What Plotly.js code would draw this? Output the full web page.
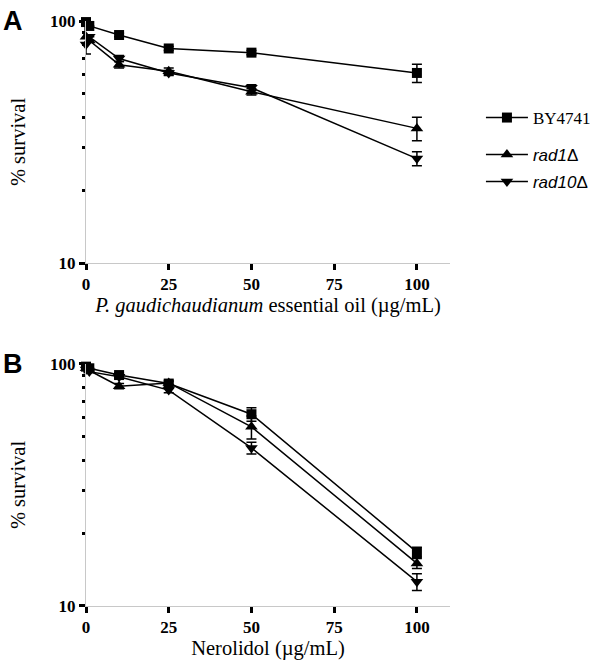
<!DOCTYPE html>
<html>
<head>
<meta charset="utf-8">
<script src="https://cdn.plot.ly/plotly-3.0.1.min.js"></script>
<style>html,body{margin:0;padding:0;background:#fff;}</style>
</head>
<body>
<div id="chart" style="width:600px;height:665px;"></div>
<script>
// Concentrations (µg/mL)
const conc = [0, 1, 10, 25, 50, 100];
const xTicks = [0, 25, 50, 75, 100];
const yTicks = [10, 100];
const yMinor = [20, 30, 40, 50, 60, 70, 80, 90];

const seriesNames = ['BY4741', '<i>rad1</i>Δ', '<i>rad10</i>Δ'];

// Panel A: P. gaudichaudianum essential oil
const aBY4741 = [99, 95.4, 87.5, 77, 74, 61];
const aBY4741Err = [0, 0, 1.5, 1.5, 1.5, 5.3];
const aRad1 = [86, 83, 66, 62, 51, 36];
const aRad1Err = [0, 0, 2, 2, 1.5, 4];
const aRad10 = [80, 86, 70, 61, 53, 27];
const aRad10Err = [7, 0, 2, 1.5, 1.5, 1.8];

// Panel B: Nerolidol
const bBY4741 = [97.5, 96, 90, 83, 62, 16.7];
const bBY4741Err = [0, 0, 2, 1.5, 4, 0.8];
const bRad1 = [96, 94, 81, 83.5, 55, 15];
const bRad1Err = [0, 0, 2, 2, 6, 0.7];
const bRad10 = [95, 93, 88.6, 78, 45, 12.6];
const bRad10Err = [0, 0, 2, 2, 2.5, 1.0];

const symbols = ['square', 'triangle-up', 'triangle-down'];
const legends = ['legend', 'legend2', 'legend3'];

function mk(y, err, i, xa, ya, show) {
  return {
    x: conc, y: y, xaxis: xa, yaxis: ya,
    type: 'scatter', mode: 'lines+markers',
    name: seriesNames[i], legend: legends[i], showlegend: show,
    line: {color: '#000', width: 1.5},
    marker: {symbol: symbols[i], size: i === 0 ? 10 : 11, color: '#000'},
    error_y: {type: 'data', array: err, visible: true, color: '#000', thickness: 1.5, width: 5},
    cliponaxis: false
  };
}

const data = [
  mk(aBY4741, aBY4741Err, 0, 'x', 'y', true),
  mk(aRad1, aRad1Err, 1, 'x', 'y', true),
  mk(aRad10, aRad10Err, 2, 'x', 'y', true),
  mk(bBY4741, bBY4741Err, 0, 'x2', 'y2', false),
  mk(bRad1, bRad1Err, 1, 'x2', 'y2', false),
  mk(bRad10, bRad10Err, 2, 'x2', 'y2', false)
];

const serif = 'Liberation Serif, Times New Roman, serif';
const sans = 'Liberation Sans, Arial, sans-serif';

function xaxis(title, anchor) {
  return {
    anchor: anchor, range: [0, 110], tickvals: xTicks, ticktext: xTicks.map(String),
    showgrid: false, zeroline: false, showline: true, linecolor: '#c8c8c8', linewidth: 1,
    ticks: 'outside', ticklen: 6, tickwidth: 3, tickcolor: '#000',
    tickfont: {family: serif, size: 17, color: '#000', weight: 'bold'},
    title: {text: title, font: {family: serif, size: 20.5, color: '#000'}, standoff: 2}
  };
}
function yaxis(domain, anchor) {
  return {
    anchor: anchor, domain: domain, type: 'log', range: [1, 2],
    tickvals: yTicks, ticktext: yTicks.map(String),
    showgrid: false, zeroline: false, showline: true, linecolor: '#c8c8c8', linewidth: 1,
    ticks: 'outside', ticklen: 6, tickwidth: 3, tickcolor: '#000',
    tickfont: {family: serif, size: 17, color: '#000', weight: 'bold'},
    minor: {tickvals: yMinor, ticks: 'outside', ticklen: 3, tickwidth: 3, tickcolor: '#000', showgrid: false},
    title: {text: '% survival', font: {family: serif, size: 20.5, color: '#000'}, standoff: 18}
  };
}

function leg(y, fam) {
  return {x: 1.085, y: y, xanchor: 'left', yanchor: 'middle', bgcolor: 'rgba(0,0,0,0)',
    borderwidth: 0, itemwidth: 42, font: {family: fam, size: 17, color: '#000'}, tracegroupgap: 0};
}
// legend y centres in paper coords: (606 - py) / 585
const layout = {
  width: 600, height: 665,
  margin: {l: 86, r: 150, t: 21, b: 59, autoexpand: false},
  paper_bgcolor: '#fff', plot_bgcolor: '#fff',
  xaxis: xaxis('<i>P. gaudichaudianum</i> essential oil (µg/mL)', 'y'),
  yaxis: yaxis([0.5863, 1], 'x'),
  xaxis2: xaxis('Nerolidol (µg/mL)', 'y2'),
  yaxis2: yaxis([0, 0.4137], 'x2'),
  legend: leg((606 - 118) / 585, serif),
  legend2: leg((606 - 155) / 585, sans),
  legend3: leg((606 - 182) / 585, sans),
  annotations: [
    {text: '<b>A</b>', xref: 'paper', yref: 'paper', x: -0.2, y: 1.0, xanchor: 'center', yanchor: 'middle',
     showarrow: false, font: {family: sans, size: 27, color: '#000'}},
    {text: '<b>B</b>', xref: 'paper', yref: 'paper', x: -0.2, y: 0.4137, xanchor: 'center', yanchor: 'middle',
     showarrow: false, font: {family: sans, size: 27, color: '#000'}}
  ],
  showlegend: true
};

Plotly.newPlot('chart', data, layout, {displayModeBar: false, staticPlot: true});
</script>
</body>
</html>
